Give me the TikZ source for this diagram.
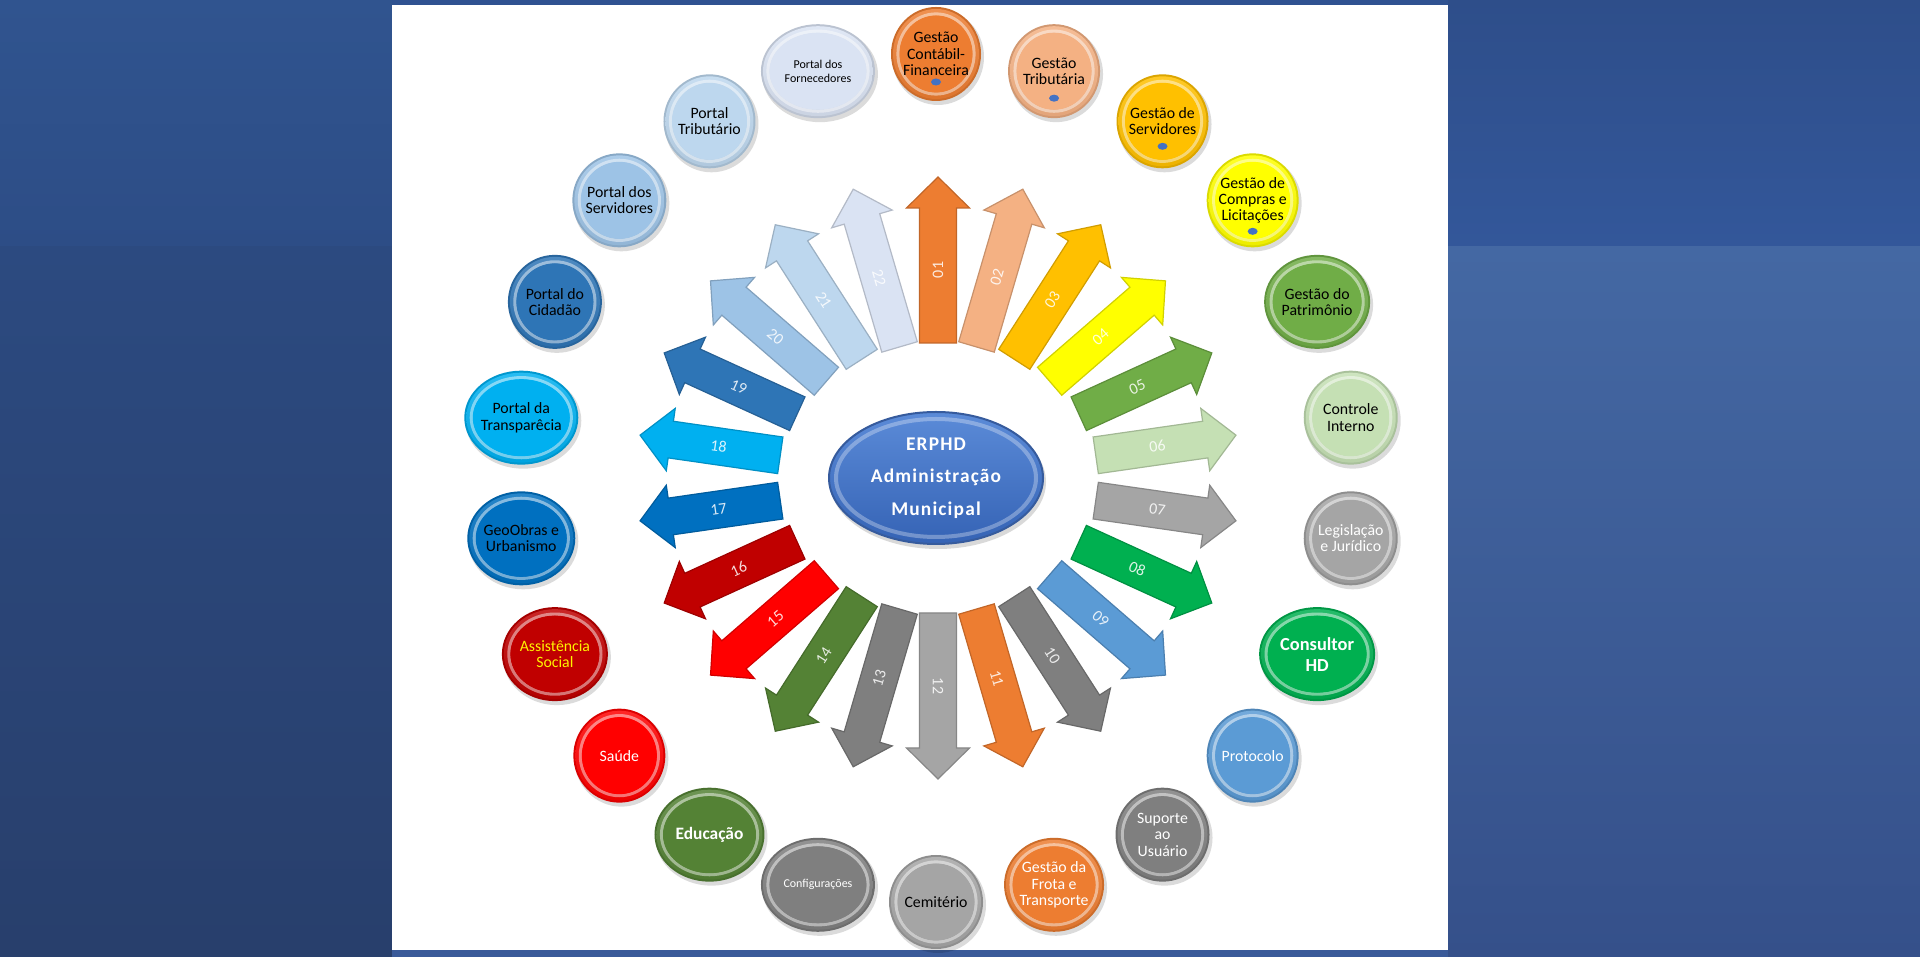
\documentclass[tikz,border=0pt]{standalone}
\usepackage{fontspec}
\setmainfont{Carlito}
\newfontfamily\ctrfont[LetterSpace=6]{Carlito}
\definecolor{c1}{HTML}{ED7D31}
\definecolor{c2}{HTML}{F4B183}
\definecolor{c3}{HTML}{FFC000}
\definecolor{c4}{HTML}{FFFF00}
\definecolor{c5}{HTML}{70AD47}
\definecolor{c6}{HTML}{C5E0B4}
\definecolor{c7}{HTML}{A5A5A5}
\definecolor{c8}{HTML}{00B050}
\definecolor{c9}{HTML}{5B9BD5}
\definecolor{c10}{HTML}{7F7F7F}
\definecolor{c11}{HTML}{ED7D31}
\definecolor{c12}{HTML}{A5A5A5}
\definecolor{c13}{HTML}{7F7F7F}
\definecolor{c14}{HTML}{548235}
\definecolor{c15}{HTML}{FF0000}
\definecolor{c16}{HTML}{C00000}
\definecolor{c17}{HTML}{0070C0}
\definecolor{c18}{HTML}{00B0F0}
\definecolor{c19}{HTML}{2E75B6}
\definecolor{c20}{HTML}{9DC3E6}
\definecolor{c21}{HTML}{BDD7EE}
\definecolor{c22}{HTML}{DAE3F3}
\definecolor{dotblue}{HTML}{4472C4}
\definecolor{bgLa}{HTML}{30548F}
\definecolor{bgLb}{HTML}{2D4D86}
\definecolor{bgLc}{HTML}{2C4A80}
\definecolor{bgLd}{HTML}{283F6C}
\definecolor{bgRa}{HTML}{2E4E8A}
\definecolor{bgRb}{HTML}{33579A}
\definecolor{bgRc}{HTML}{4468A3}
\definecolor{bgRd}{HTML}{35508A}
\definecolor{bgTop}{HTML}{2F5291}
\definecolor{bgBot}{HTML}{3A5A99}
\definecolor{ctrtop}{HTML}{5B8BD8}
\definecolor{ctrbot}{HTML}{3563B5}
\newcommand\fntN{\fontsize{7.9}{8.2}\selectfont}
\newcommand\fntB{\bfseries\fontsize{9.2}{10.5}\selectfont}
\newcommand\fntS{\fontsize{6}{7}\selectfont}
\newcommand\fntE{\bfseries\fontsize{8.7}{10}\selectfont}
\begin{document}
\begin{tikzpicture}[x=0.5pt,y=0.5pt,
  circtext/.style={align=center, inner sep=0pt},
  numtext/.style={text=white, text opacity=.85, font=\fontsize{8}{9}\selectfont, inner sep=0pt}]
\useasboundingbox (0,0) rectangle (1920,957);
% background
\shade[top color=bgLa, bottom color=bgLb] (0,710) rectangle (392,957);
\shade[top color=bgLc, bottom color=bgLd] (0,0) rectangle (392,710);
\shade[top color=bgRa, bottom color=bgRb] (1448,710) rectangle (1920,957);
\shade[top color=bgRc, bottom color=bgRd] (1448,0) rectangle (1920,710);
\fill[bgTop] (392,952) rectangle (1448,957);
\fill[bgBot] (392,0) rectangle (1448,7);
\fill[white] (392,7) rectangle (1448,952);

\coordinate (C) at (936,479);
\coordinate (A) at (938,479);
\coordinate (E) at (936,479);

% arrows
\foreach \k/\col in {1/c1,2/c2,3/c3,4/c4,5/c5,6/c6,7/c7,8/c8,9/c9,10/c10,11/c11,
  12/c12,13/c13,14/c14,15/c15,16/c16,17/c17,18/c18,19/c19,20/c20,21/c21,22/c22}{
  \pgfmathsetmacro\ang{90-(\k-1)*360/22}
  \pgfmathsetmacro\rb{216/sqrt((1.35*cos(\ang))^2+(1.6*sin(\ang))^2)}
  \begin{scope}[shift={(A)},rotate=\ang]
    \filldraw[fill=\col, draw=\col!82!black, line width=0.6]
      (\rb,-18.5) -- (270,-18.5) -- (270,-31.5) -- (301,0) -- (270,31.5) -- (270,18.5) -- (\rb,18.5) -- cycle;
  \end{scope}
  \pgfmathsetmacro\rt{\rb+0.44*(301-\rb)}
  \pgfmathsetmacro\rot{ifthenelse(\k<13,\ang,\ang+180)}
  \path (A) ++(\ang:\rt) node[numtext, rotate=\rot] (n\k) {\ifnum\k<10 0\fi\k};
}

% module buttons
\foreach \k/\col/\tc/\rx/\fs/\txt/\dd/\dt in {
  1/c1/black/45/\fntN/{Gestão\\Contábil-\\Financeira}/-28/1,
  2/c2/black/46/\fntN/{Gestão\\Tributária}/-27/1,
  3/c3/black/46/\fntN/{Gestão de\\Servidores}/-25/1,
  4/c4/black/46/\fntN/{Gestão de\\Compras e\\Licitações}/-31/1,
  5/c5/black/53/\fntN/{Gestão do\\Patrimônio}/0/0,
  6/c6/black/47/\fntN/{Controle\\Interno}/0/0,
  7/c7/white/47/\fntN/{Legislação\\e Jurídico}/0/0,
  8/c8/white/58/\fntB/{Consultor\\HD}/0/0,
  9/c9/white/46/\fntN/{Protocolo}/0/0,
  10/c10/white/47/\fntN/{Suporte\\ao\\Usuário}/0/0,
  11/c11/white/50/\fntN/{Gestão da\\Frota e\\Transporte}/0/0,
  12/c12/black/47/\fntN/{Cemitério}/0/0,
  13/c13/white/57/\fntS/{Configurações}/0/0,
  14/c14/white/55/\fntE/{Educação}/0/0,
  15/c15/white/46/\fntN/{Saúde}/0/0,
  16/c16/yellow/53/\fntN/{Assistência\\Social}/0/0,
  17/c17/black/54/\fntN/{GeoObras e\\Urbanismo}/0/0,
  18/c18/black/57/\fntN/{Portal da\\Transparêcia}/0/0,
  19/c19/black/47/\fntN/{Portal do\\Cidadão}/0/0,
  20/c20/black/47/\fntN/{Portal dos\\Servidores}/0/0,
  21/c21/black/46/\fntN/{Portal\\Tributário}/0/0,
  22/c22/black/57/\fntS/{Portal dos\\Fornecedores}/0/0}{
  \pgfmathsetmacro\ang{90-(\k-1)*360/22}
  \path (C) ++(\ang:419 and 424) coordinate (p\k);
  \fill[black, opacity=.14] (p\k) ++(2,-3) ellipse [x radius=\rx+1, y radius=48];
  \fill[\col!86!black] (p\k) ellipse [x radius=\rx, y radius=47];
  \shade[top color=\col!85!white, bottom color=\col!93!black] (p\k) ellipse [x radius=\rx-2, y radius=45];
  \draw[white, opacity=.45, line width=1.6] (p\k) ellipse [x radius=\rx-7, y radius=40];
  \fill[\col] (p\k) ellipse [x radius=\rx-8.5, y radius=38.5];
  \ifnum\dt=1 \fill[dotblue] (p\k) ++(0,\dd) ellipse [x radius=5, y radius=3.5]; \fi
  \node[circtext, text=\tc, font=\fs] (t\k) at (p\k) {\txt};
}

% centre
\fill[black, opacity=.15] (E) ++(2,-4) ellipse [x radius=108, y radius=67];
\shade[top color=ctrtop, bottom color=ctrbot] (E) ellipse [x radius=107, y radius=66];
\draw[dotblue!80!black, line width=1] (E) ellipse [x radius=107, y radius=66];
\draw[white, opacity=.3, line width=2] (E) ellipse [x radius=100, y radius=59];
\node[text=white, align=center, inner sep=0pt, font=\ctrfont\bfseries\fontsize{9.7}{16.2}\selectfont] (erp) at (E) {ERPHD\\Administração\\Municipal};
\end{tikzpicture}
\end{document}
